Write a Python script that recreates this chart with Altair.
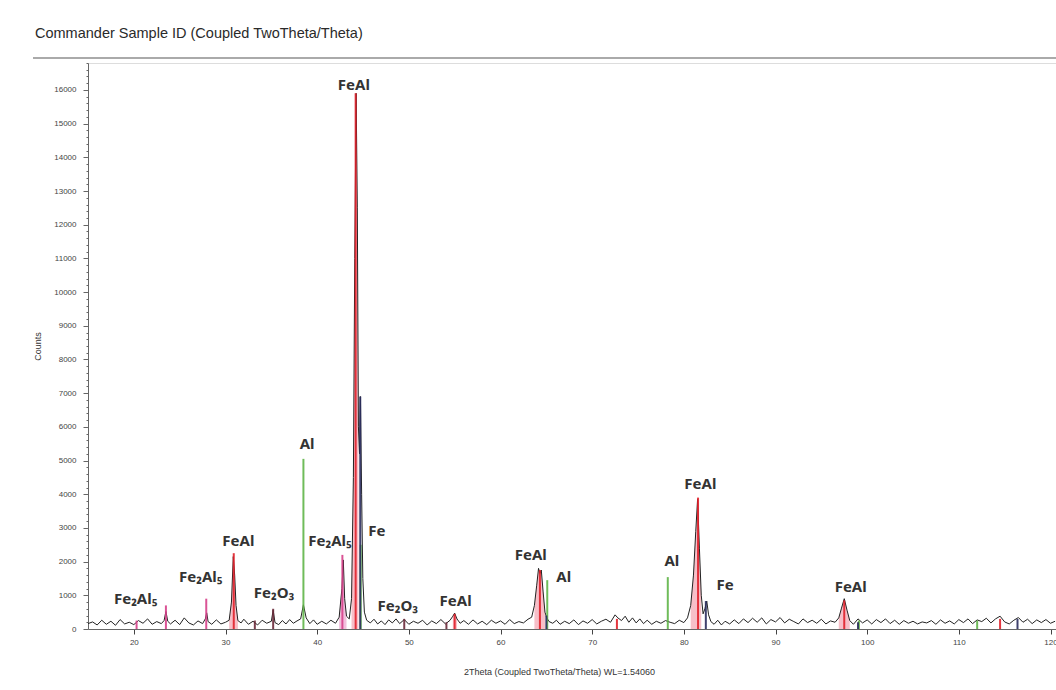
import altair as alt
import pandas as pd

# ---------------- data ----------------
obs_2theta = [
    15.0, 15.5, 16.0, 16.5, 17.0, 17.5, 18.0, 18.5, 19.0, 19.5, 20.0, 20.5, 21.0, 21.5, 22.0, 22.5, 23.0,
    23.3, 23.5, 23.7, 24.0, 24.5, 25.0, 25.5, 26.0, 26.5, 27.0, 27.5, 27.8, 27.95, 28.1, 28.5, 29.0, 29.5,
    30.0, 30.4, 30.65, 30.85, 31.0, 31.15, 31.35, 31.7, 32.0, 32.5, 33.0, 33.5, 34.0, 34.5, 35.0, 35.2,
    35.4, 35.8, 36.2, 36.6, 37.0, 37.4, 37.8, 38.2, 38.5, 38.8, 39.2, 39.6, 40.0, 40.5, 41.0, 41.5, 42.0,
    42.4, 42.7, 42.85, 43.0, 43.2, 43.5, 43.75, 43.95, 44.1, 44.25, 44.38, 44.5, 44.62, 44.72, 44.85,
    44.98, 45.15, 45.4, 45.8, 46.2, 46.6, 47.0, 47.4, 47.8, 48.2, 48.6, 49.0, 49.5, 50.0, 50.5, 51.0,
    51.5, 52.0, 52.5, 53.0, 53.5, 54.0, 54.5, 54.8, 55.0, 55.25, 55.6, 56.0, 56.5, 57.0, 57.5, 58.0,
    58.5, 59.0, 59.5, 60.0, 60.5, 61.0, 61.5, 62.0, 62.5, 63.0, 63.4, 63.7, 63.95, 64.15, 64.3, 64.45,
    64.65, 64.85, 65.05, 65.3, 65.7, 66.1, 66.5, 67.0, 67.5, 68.0, 68.5, 69.0, 69.5, 70.0, 70.5, 71.0,
    71.5, 72.0, 72.5, 72.8, 73.2, 73.6, 74.0, 74.4, 74.8, 75.2, 75.6, 76.0, 76.5, 77.0, 77.5, 78.0,
    78.5, 79.0, 79.5, 80.0, 80.4, 80.75, 81.05, 81.3, 81.5, 81.7, 81.9, 82.1, 82.3, 82.5, 82.7, 82.95,
    83.3, 83.7, 84.1, 84.5, 85.0, 85.5, 86.0, 86.5, 87.0, 87.5, 88.0, 88.5, 89.0, 89.5, 90.0, 90.5,
    91.0, 91.5, 92.0, 92.5, 93.0, 93.5, 94.0, 94.5, 95.0, 95.5, 96.0, 96.5, 96.9, 97.2, 97.5, 97.8,
    98.1, 98.5, 99.0, 99.5, 100.0, 100.5, 101.0, 101.5, 102.0, 102.5, 103.0, 103.5, 104.0, 104.5,
    105.0, 105.5, 106.0, 106.5, 107.0, 107.5, 108.0, 108.5, 109.0, 109.5, 110.0, 110.5, 111.0, 111.5,
    112.0, 112.5, 113.0, 113.5, 114.0, 114.5, 115.0, 115.5, 116.0, 116.5, 117.0, 117.5, 118.0, 118.5,
    119.0, 119.5, 120.0, 120.5,
]
obs_counts = [
    160, 210, 120, 260, 140, 230, 110, 280, 150, 200, 130, 250, 170, 300, 140, 220, 160,
    250, 520, 230, 150, 260, 130, 330, 180, 120, 240, 160, 300, 480, 220, 140, 270, 150,
    200, 260, 800, 2150, 1600, 700, 250, 180, 290, 140, 230, 120, 260, 170, 230, 560,
    190, 130, 250, 150, 280, 170, 240, 300, 720, 330, 160, 270, 140, 230, 150, 260, 170,
    350, 1200, 2050, 900, 380, 300, 900, 4500, 11000, 15900, 12500, 6000, 5200, 6900, 4000,
    1500, 500, 260, 180, 290, 150, 240, 130, 270, 180, 300, 160, 280, 140, 230, 170,
    260, 120, 240, 160, 280, 150, 260, 380, 470, 300, 170, 250, 140, 270, 150, 230,
    130, 260, 170, 240, 140, 280, 160, 220, 180, 290, 350, 700, 1300, 1800, 1650, 1750,
    1100, 500, 330, 220, 170, 260, 140, 230, 160, 270, 130, 240, 170, 280, 150, 230,
    290, 200, 420, 330, 250, 380, 200, 330, 180, 300, 160, 260, 140, 230, 170, 250,
    200, 160, 260, 190, 330, 700, 1600, 2900, 3850, 2400, 1000, 450, 600, 830, 420, 220,
    140, 260, 120, 230, 150, 270, 160, 300, 190, 320, 200, 330, 150, 280, 210, 340,
    180, 290, 220, 150, 300, 190, 260, 170, 290, 150, 240, 200, 330, 620, 900, 560,
    250, 140, 300, 180, 270, 150, 280, 190, 300, 160, 260, 140, 250, 170,
    230, 150, 210, 180, 250, 140, 270, 170, 240, 150, 280, 190, 300, 160,
    270, 220, 320, 180, 300, 380, 210, 150, 260, 340, 200, 290, 160, 270,
    190, 280, 170, 230,
]

# reference stick patterns (2theta, counts)
feal_pos = [30.9, 44.2, 55.0, 64.3, 72.7, 81.55, 97.5, 114.5]
feal_int = [2250, 15900, 450, 1750, 300, 3900, 850, 300]
al_pos = [38.5, 44.75, 65.1, 78.25, 99.1, 112.0]
al_int = [5050, 2500, 1450, 1540, 250, 250]
fe2al5_pos = [20.3, 23.5, 27.9, 42.75]
fe2al5_int = [250, 700, 900, 2200]
fe2o3_pos = [33.2, 35.2, 49.5, 54.1]
fe2o3_int = [250, 600, 300, 200]
fe_pos = [44.7, 65.0, 82.4, 99.0, 116.4]
fe_int = [6900, 400, 830, 200, 300]

phases = ["FeAl", "Al", "Fe2Al5", "Fe2O3", "Fe"]
phase_colors = ["#e0202a", "#5fb548", "#d6408a", "#6b2a3a", "#2b2d5e"]

# peak annotations
label_text = ["Fe\u2082Al\u2085", "Fe\u2082Al\u2085", "FeAl", "Fe\u2082O\u2083", "Al", "Fe\u2082Al\u2085",
              "Fe", "FeAl", "Fe\u2082O\u2083", "FeAl", "FeAl", "Al", "Al", "FeAl", "Fe", "FeAl"]
label_x = [20.2, 27.3, 31.4, 35.3, 38.9, 41.4, 46.5, 44.0, 48.8, 55.1, 63.3, 66.9, 78.7, 81.8, 84.5, 98.2]
label_y = [890, 1540, 2610, 1070, 5490, 2610, 2910, 16140, 680, 830, 2200, 1540, 2020, 4300, 1300, 1250]

# shaded FeAl / Fe2Al5 windows under the observed curve
feal_windows = [(30.4, 31.4), (43.6, 44.5), (54.7, 55.3), (63.5, 65.0), (80.5, 82.0), (96.9, 98.1)]
fe2al5_windows = [(42.4, 43.2)]

# ---------------- frames ----------------
obs = pd.DataFrame({"tt": obs_2theta, "counts": obs_counts})
sticks = pd.DataFrame({
    "tt": feal_pos + al_pos + fe2al5_pos + fe2o3_pos + fe_pos,
    "counts": feal_int + al_int + fe2al5_int + fe2o3_int + fe_int,
    "phase": (["FeAl"] * len(feal_pos) + ["Al"] * len(al_pos) + ["Fe2Al5"] * len(fe2al5_pos)
              + ["Fe2O3"] * len(fe2o3_pos) + ["Fe"] * len(fe_pos)),
})
labels = pd.DataFrame({"text": label_text, "tt": label_x, "counts": label_y})

W, H = 968, 566
x_scale = alt.Scale(domain=[15, 120.6], nice=False, zero=False)
y_scale = alt.Scale(domain=[0, 16800], nice=False)

x_axis = alt.Axis(
    values=list(range(20, 121, 10)), labelFontSize=8, labelColor="#444", tickColor="#444",
    domainColor="#666", tickSize=5, labelPadding=4, grid=False, labelFont="Liberation Sans",
    title="2Theta (Coupled TwoTheta/Theta) WL=1.54060", titleFontSize=9, titleFontWeight="normal",
    titleColor="#333", titleFont="Liberation Sans", titleX=471, titleY=38,
)
y_axis = alt.Axis(
    values=list(range(0, 16801, 200)), labelExpr="datum.value % 1000 === 0 ? datum.value : ''",
    tickSize={"expr": "datum.value % 1000 === 0 ? 5 : 2"}, labelOverlap=False, labelFlush=False,
    labelFontSize=8, labelColor="#444", tickColor="#666", domainColor="#666", labelPadding=7,
    grid=False, labelFont="Liberation Sans", title="Counts", titleFontSize=9,
    titleFontWeight="normal", titleColor="#333", titleFont="Liberation Sans", titlePadding=11,
)

X = alt.X("tt:Q", scale=x_scale, axis=x_axis)
Y = alt.Y("counts:Q", scale=y_scale, axis=y_axis)

shade_layers = []
for lo, hi in feal_windows:
    shade_layers.append(
        alt.Chart(obs).mark_area(color="#f08a9a", opacity=0.55)
        .transform_filter(alt.FieldRangePredicate(field="tt", range=[lo, hi]))
        .encode(x=X, y=Y)
    )
for lo, hi in fe2al5_windows:
    shade_layers.append(
        alt.Chart(obs).mark_area(color="#e58ac0", opacity=0.55)
        .transform_filter(alt.FieldRangePredicate(field="tt", range=[lo, hi]))
        .encode(x=X, y=Y)
    )

line = alt.Chart(obs).mark_line(color="#222", strokeWidth=1).encode(x=X, y=Y)

stick_layer = alt.Chart(sticks).mark_rule(strokeWidth=2, opacity=0.9).encode(
    x=X,
    y=Y,
    y2=alt.datum(0),
    color=alt.Color("phase:N", scale=alt.Scale(domain=phases, range=phase_colors), legend=None),
)

text_layer = alt.Chart(labels).mark_text(
    font="Noto Sans", fontWeight="bold", fontSize=15, color="#333", baseline="middle", align="center"
).encode(x=X, y=Y, text="text:N")

separator = alt.Chart(alt.Data(values=[{}])).mark_rule(color="#aaa", strokeWidth=2).encode(
    x=alt.value(-55), x2=alt.value(W), y=alt.value(-5)
)

chart = alt.layer(*shade_layers, line, stick_layer, text_layer, separator).properties(
    width=W, height=H,
    title=alt.TitleParams(
        "Commander Sample ID (Coupled TwoTheta/Theta)", anchor="start", frame="group", dx=-53,
        offset=16, fontSize=14.5, font="Liberation Sans", fontWeight="normal", color="#2a2a2a",
    ),
    autosize=alt.AutoSizeParams(type="none"),
    padding={"left": 88, "top": 63, "right": 0, "bottom": 61},
).configure_view(stroke=None).configure(background="white")

chart.save("out.html", embed_options={"renderer": "svg", "actions": False})
